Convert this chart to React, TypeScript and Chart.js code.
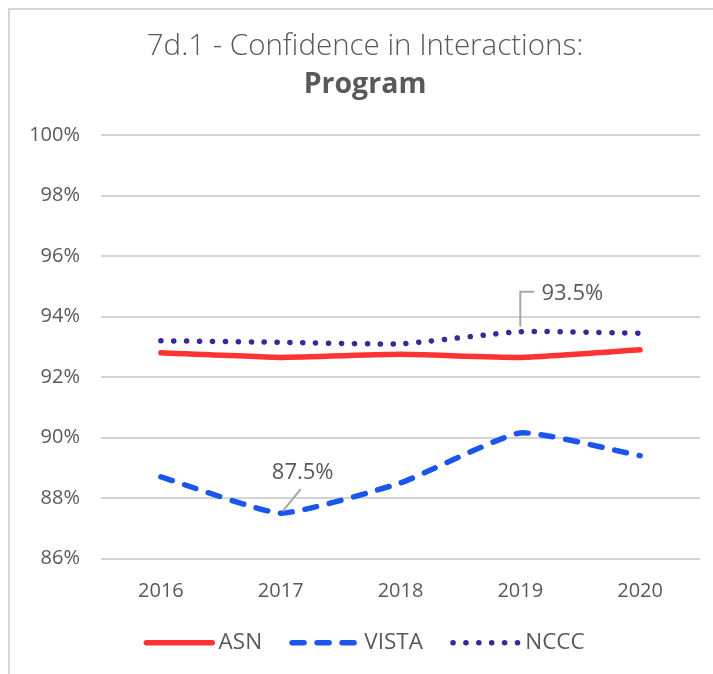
import React, { useEffect, useRef } from "react";
import { Chart, registerables } from "chart.js";

Chart.register(...registerables);

const years = ["2016", "2017", "2018", "2019", "2020"];
const asn = [92.8, 92.65, 92.75, 92.65, 92.9];
const vista = [88.7, 87.5, 88.5, 90.15, 89.4];
const nccc = [93.2, 93.15, 93.1, 93.5, 93.45];
const yTicks = [86, 88, 90, 92, 94, 96, 98, 100];

const TEXT = "#595959";
const FONT = "'Open Sans', 'Noto Sans', sans-serif";
const LEGEND_BOX = 62;

const labelPlugin = {
  id: "calloutLabels",
  afterDatasetsDraw(chart: any) {
    const ctx = chart.ctx;
    ctx.save();
    ctx.font = `22px ${FONT}`;
    ctx.fillStyle = TEXT;
    ctx.strokeStyle = "#a6a6a6";
    ctx.lineWidth = 2;
    ctx.textAlign = "center";
    ctx.textBaseline = "middle";
    // VISTA 2017
    const m1 = chart.getDatasetMeta(1).data[1];
    const v1 = vista[1];
    ctx.beginPath();
    ctx.moveTo(m1.x + 2, m1.y - 2);
    ctx.lineTo(m1.x + 20, m1.y - 24);
    ctx.stroke();
    ctx.fillText(v1.toFixed(1) + "%", m1.x + 22, m1.y - 40);
    // NCCC 2019
    const m2 = chart.getDatasetMeta(2).data[3];
    const v2 = nccc[3];
    ctx.beginPath();
    ctx.moveTo(m2.x, m2.y - 5);
    ctx.lineTo(m2.x, m2.y - 40);
    ctx.lineTo(m2.x + 14, m2.y - 40);
    ctx.stroke();
    ctx.fillText(v2.toFixed(1) + "%", m2.x + 52, m2.y - 38);
    ctx.restore();
  },
};

const legendSamplePlugin = {
  id: "legendSamples",
  afterDraw(chart: any) {
    const legend = chart.legend;
    if (!legend || !legend.legendHitBoxes) return;
    const ctx = chart.ctx;
    ctx.save();
    legend.legendHitBoxes.forEach((hb: any, i: number) => {
      const ds = chart.data.datasets[i];
      const y = hb.top + hb.height / 2;
      ctx.beginPath();
      ctx.setLineDash(ds.borderDash || []);
      ctx.lineCap = "round";
      ctx.lineWidth = ds.borderWidth;
      ctx.strokeStyle = ds.borderColor;
      ctx.moveTo(hb.left + 1, y);
      ctx.lineTo(hb.left + 67, y);
      ctx.stroke();
    });
    ctx.restore();
  },
};

export default function App() {
  const ref = useRef<HTMLCanvasElement>(null);
  useEffect(() => {
    document.documentElement.style.overflow = "hidden";
    const chart = new Chart(ref.current!, {
      type: "line",
      data: {
        labels: years,
        datasets: [
          {
            label: "ASN",
            data: asn,
            borderColor: "#FF3333",
            backgroundColor: "#FF3333",
            borderWidth: 5.5,
            borderCapStyle: "round",
            pointRadius: 0,
            tension: 0.15,
          },
          {
            label: "VISTA",
            data: vista,
            borderColor: "#1A56EB",
            backgroundColor: "#1A56EB",
            borderWidth: 5.5,
            borderDash: [12, 13],
            borderCapStyle: "round",
            pointRadius: 0,
            tension: 0.15,
          },
          {
            label: "NCCC",
            data: nccc,
            borderColor: "#3A2896",
            backgroundColor: "#3A2896",
            borderWidth: 5.5,
            borderDash: [0.1, 12.8],
            borderCapStyle: "round",
            pointRadius: 0,
            tension: 0.15,
          },
        ],
      },
      options: {
        animation: false,
        responsive: true,
        maintainAspectRatio: false,
        layout: { padding: { left: 20, right: 13, top: 0, bottom: 10 } },
        plugins: {
          title: {
            display: true,
            text: "7d.1 - Confidence in Interactions:",
            color: TEXT,
            font: { family: FONT, size: 29.5, weight: "300" as any },
            padding: { top: 19, bottom: 0 },
          },
          subtitle: {
            display: true,
            text: "Program",
            color: TEXT,
            font: { family: FONT, size: 28.5, weight: "bold" },
            padding: { top: 3.5, bottom: 33 },
          },
          legend: {
            position: "bottom",
            labels: {
              usePointStyle: true,
              pointStyle: "line",
              pointStyleWidth: LEGEND_BOX,
              boxWidth: LEGEND_BOX,
              padding: 29,
              color: TEXT,
              font: { family: FONT, size: 22.5 },
              generateLabels: (chart: any) =>
                Chart.defaults.plugins.legend.labels
                  .generateLabels(chart)
                  .map((it: any) => ({
                    ...it,
                    strokeStyle: "rgba(0,0,0,0)",
                    fillStyle: "rgba(0,0,0,0)",
                    lineWidth: 0,
                  })),
            },
          },
          tooltip: { enabled: false },
        },
        scales: {
          x: {
            offset: true,
            grid: { display: false, drawTicks: false },
            border: { display: false },
            ticks: { color: TEXT, font: { family: FONT, size: 20 }, padding: 21 },
            afterFit: (scale: any) => {
              scale.height = 44;
            },
          },
          y: {
            min: yTicks[0],
            max: yTicks[yTicks.length - 1],
            afterBuildTicks: (axis: any) => {
              axis.ticks = yTicks.map((v) => ({ value: v }));
            },
            afterFit: (scale: any) => {
              scale.width = 71;
            },
            grid: { color: "#d4d4d4", lineWidth: 2, drawTicks: false },
            border: { display: false },
            ticks: {
              color: TEXT,
              font: { family: FONT, size: 20 },
              padding: 21,
              callback: (v: any) => v + "%",
            },
          },
        },
      },
      plugins: [labelPlugin, legendSamplePlugin],
    });
    return () => chart.destroy();
  }, []);
  return (
    <div
      style={{
        position: "absolute",
        left: 8,
        top: 8,
        width: 705,
        height: 666,
        borderTop: "2px solid #d6d6d6",
        borderLeft: "2px solid #d6d6d6",
        boxSizing: "border-box",
      }}
    >
      <canvas ref={ref} />
    </div>
  );
}
